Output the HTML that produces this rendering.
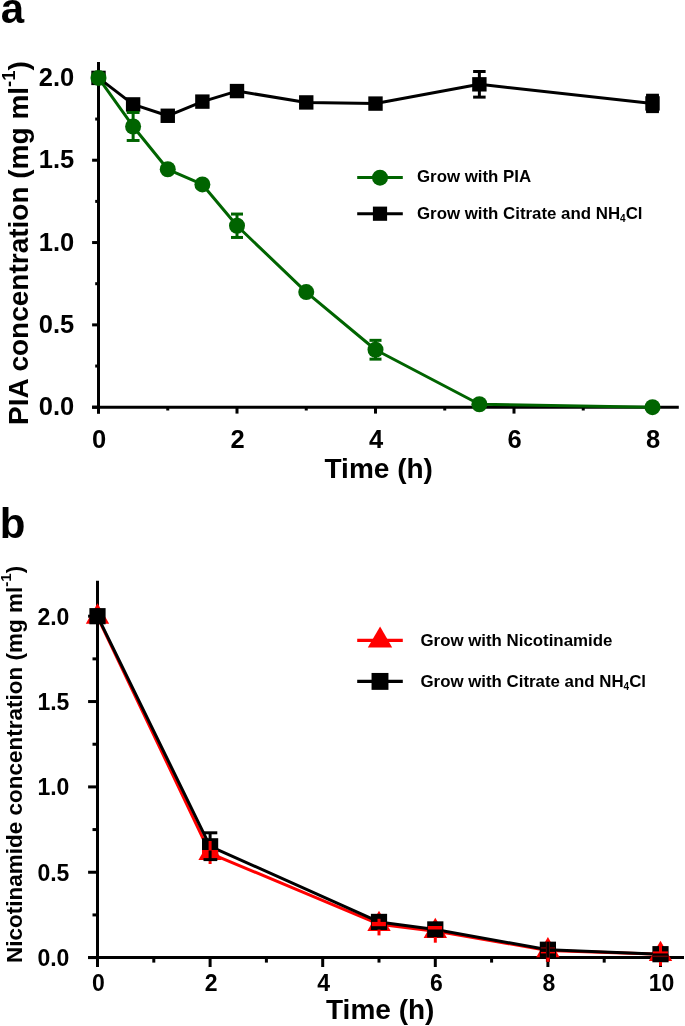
<!DOCTYPE html>
<html><head><meta charset="utf-8"><title>Figure</title>
<style>
html,body{margin:0;padding:0;background:#fff;}
body{width:685px;height:1026px;overflow:hidden;}
svg{display:block;}
text{font-family:"Liberation Sans",Arial,sans-serif;font-weight:bold;fill:#000;}
</style></head>
<body>
<svg width="685" height="1026" viewBox="0 0 685 1026">
<rect width="685" height="1026" fill="#fff"/>
<!-- panel a -->
<text x="0.7" y="22.8" font-size="42" text-anchor="start">a</text>
<line x1="98.5" y1="62" x2="98.5" y2="413.6" stroke="#000" stroke-width="3"/>
<line x1="92.1" y1="407.2" x2="678.8" y2="407.2" stroke="#000" stroke-width="3"/>
<line x1="98.5" y1="407.2" x2="98.5" y2="413.6" stroke="#000" stroke-width="3"/>
<line x1="237" y1="407.2" x2="237" y2="413.6" stroke="#000" stroke-width="3"/>
<line x1="375.5" y1="407.2" x2="375.5" y2="413.6" stroke="#000" stroke-width="3"/>
<line x1="514" y1="407.2" x2="514" y2="413.6" stroke="#000" stroke-width="3"/>
<line x1="652.5" y1="407.2" x2="652.5" y2="413.6" stroke="#000" stroke-width="3"/>
<line x1="167.75" y1="407.2" x2="167.75" y2="410.5" stroke="#000" stroke-width="3"/>
<line x1="306.25" y1="407.2" x2="306.25" y2="410.5" stroke="#000" stroke-width="3"/>
<line x1="444.75" y1="407.2" x2="444.75" y2="410.5" stroke="#000" stroke-width="3"/>
<line x1="583.25" y1="407.2" x2="583.25" y2="410.5" stroke="#000" stroke-width="3"/>
<line x1="92.1" y1="407.2" x2="98.5" y2="407.2" stroke="#000" stroke-width="3"/>
<line x1="92.1" y1="324.88" x2="98.5" y2="324.88" stroke="#000" stroke-width="3"/>
<line x1="92.1" y1="242.55" x2="98.5" y2="242.55" stroke="#000" stroke-width="3"/>
<line x1="92.1" y1="160.22" x2="98.5" y2="160.22" stroke="#000" stroke-width="3"/>
<line x1="92.1" y1="77.9" x2="98.5" y2="77.9" stroke="#000" stroke-width="3"/>
<line x1="95.2" y1="366.04" x2="98.5" y2="366.04" stroke="#000" stroke-width="3"/>
<line x1="95.2" y1="283.71" x2="98.5" y2="283.71" stroke="#000" stroke-width="3"/>
<line x1="95.2" y1="201.39" x2="98.5" y2="201.39" stroke="#000" stroke-width="3"/>
<line x1="95.2" y1="119.06" x2="98.5" y2="119.06" stroke="#000" stroke-width="3"/>
<text x="74.3" y="415.3" font-size="25.5" text-anchor="end">0.0</text>
<text x="74.3" y="332.98" font-size="25.5" text-anchor="end">0.5</text>
<text x="74.3" y="250.65" font-size="25.5" text-anchor="end">1.0</text>
<text x="74.3" y="168.32" font-size="25.5" text-anchor="end">1.5</text>
<text x="74.3" y="86" font-size="25.5" text-anchor="end">2.0</text>
<text x="99.1" y="448.3" font-size="25.5" text-anchor="middle">0</text>
<text x="237.6" y="448.3" font-size="25.5" text-anchor="middle">2</text>
<text x="376.1" y="448.3" font-size="25.5" text-anchor="middle">4</text>
<text x="514.6" y="448.3" font-size="25.5" text-anchor="middle">6</text>
<text x="653.1" y="448.3" font-size="25.5" text-anchor="middle">8</text>
<text x="378.7" y="478.2" font-size="28" text-anchor="middle">Time (h)</text>
<text transform="translate(28.0,243.1) rotate(-90)" font-size="28" text-anchor="middle">PIA concentration (mg ml<tspan font-size="18.5" dy="-13.4">-1</tspan><tspan dy="13.4">)</tspan></text>
<polyline points="98.5,77.9 133.12,104.41 167.75,115.77 202.38,101.61 237,91.07 306.25,102.43 375.5,103.59 479.38,84.32 652.5,103.42" fill="none" stroke="#000" stroke-width="3" stroke-linejoin="round"/>
<rect x="91.3" y="70.7" width="14.4" height="14.4" fill="#000"/>
<rect x="125.92" y="97.21" width="14.4" height="14.4" fill="#000"/>
<rect x="160.55" y="108.57" width="14.4" height="14.4" fill="#000"/>
<rect x="195.18" y="94.41" width="14.4" height="14.4" fill="#000"/>
<rect x="229.8" y="83.87" width="14.4" height="14.4" fill="#000"/>
<rect x="299.05" y="95.23" width="14.4" height="14.4" fill="#000"/>
<rect x="368.3" y="96.39" width="14.4" height="14.4" fill="#000"/>
<rect x="472.18" y="77.12" width="14.4" height="14.4" fill="#000"/>
<rect x="645.3" y="96.22" width="14.4" height="14.4" fill="#000"/>
<line x1="479.38" y1="71.52" x2="479.38" y2="97.12" stroke="#000" stroke-width="3"/>
<line x1="473.12" y1="71.52" x2="485.62" y2="71.52" stroke="#000" stroke-width="3"/>
<line x1="473.12" y1="97.12" x2="485.62" y2="97.12" stroke="#000" stroke-width="3"/>
<line x1="652.5" y1="95.22" x2="652.5" y2="111.62" stroke="#000" stroke-width="3"/>
<line x1="646.15" y1="95.22" x2="658.85" y2="95.22" stroke="#000" stroke-width="3"/>
<line x1="646.15" y1="111.62" x2="658.85" y2="111.62" stroke="#000" stroke-width="3"/>
<rect x="646.15" y="94.42" width="12.7" height="18" fill="#000"/>
<polyline points="98.5,77.9 133.12,126.47 167.75,169.28 202.38,184.43 237,225.76 306.25,292.11 375.5,349.74 479.38,404.24 652.5,407.2" fill="none" stroke="#006400" stroke-width="3" stroke-linejoin="round"/>
<circle cx="98.5" cy="77.9" r="8" fill="#006400"/>
<circle cx="133.12" cy="126.47" r="8" fill="#006400"/>
<circle cx="167.75" cy="169.28" r="8" fill="#006400"/>
<circle cx="202.38" cy="184.43" r="8" fill="#006400"/>
<circle cx="237" cy="225.76" r="8" fill="#006400"/>
<circle cx="306.25" cy="292.11" r="8" fill="#006400"/>
<circle cx="375.5" cy="349.74" r="8" fill="#006400"/>
<circle cx="479.38" cy="404.24" r="8" fill="#006400"/>
<circle cx="652.5" cy="407.2" r="8" fill="#006400"/>
<line x1="133.12" y1="112.47" x2="133.12" y2="140.47" stroke="#006400" stroke-width="3"/>
<line x1="126.72" y1="112.47" x2="139.53" y2="112.47" stroke="#006400" stroke-width="3"/>
<line x1="126.72" y1="140.47" x2="139.53" y2="140.47" stroke="#006400" stroke-width="3"/>
<line x1="237" y1="214.06" x2="237" y2="237.46" stroke="#006400" stroke-width="3"/>
<line x1="231" y1="214.06" x2="243" y2="214.06" stroke="#006400" stroke-width="3"/>
<line x1="231" y1="237.46" x2="243" y2="237.46" stroke="#006400" stroke-width="3"/>
<line x1="375.5" y1="340.34" x2="375.5" y2="359.14" stroke="#006400" stroke-width="3"/>
<line x1="369.5" y1="340.34" x2="381.5" y2="340.34" stroke="#006400" stroke-width="3"/>
<line x1="369.5" y1="359.14" x2="381.5" y2="359.14" stroke="#006400" stroke-width="3"/>
<line x1="357.2" y1="177.6" x2="402.8" y2="177.6" stroke="#006400" stroke-width="3"/>
<circle cx="380" cy="177.7" r="8" fill="#006400"/>
<line x1="357.2" y1="213.7" x2="402.8" y2="213.7" stroke="#000" stroke-width="3"/>
<rect x="372.9" y="206.6" width="14.2" height="14.2" fill="#000"/>
<text x="417" y="182.4" font-size="16.85" text-anchor="start">Grow with PIA</text>
<text x="417" y="218.6" font-size="16.85" text-anchor="start">Grow with Citrate and NH<tspan font-size="10" dy="3">4</tspan><tspan dy="-3">Cl</tspan></text>
<!-- panel b -->
<text x="-0.2" y="537.5" font-size="42" text-anchor="start">b</text>
<line x1="97.5" y1="580.8" x2="97.5" y2="967" stroke="#000" stroke-width="3"/>
<line x1="88.1" y1="957.6" x2="684" y2="957.6" stroke="#000" stroke-width="3"/>
<line x1="97.5" y1="957.6" x2="97.5" y2="967" stroke="#000" stroke-width="3"/>
<line x1="210.1" y1="957.6" x2="210.1" y2="967" stroke="#000" stroke-width="3"/>
<line x1="322.7" y1="957.6" x2="322.7" y2="967" stroke="#000" stroke-width="3"/>
<line x1="435.3" y1="957.6" x2="435.3" y2="967" stroke="#000" stroke-width="3"/>
<line x1="547.9" y1="957.6" x2="547.9" y2="967" stroke="#000" stroke-width="3"/>
<line x1="660.5" y1="957.6" x2="660.5" y2="967" stroke="#000" stroke-width="3"/>
<line x1="153.8" y1="957.6" x2="153.8" y2="962.6" stroke="#000" stroke-width="3"/>
<line x1="266.4" y1="957.6" x2="266.4" y2="962.6" stroke="#000" stroke-width="3"/>
<line x1="379" y1="957.6" x2="379" y2="962.6" stroke="#000" stroke-width="3"/>
<line x1="491.6" y1="957.6" x2="491.6" y2="962.6" stroke="#000" stroke-width="3"/>
<line x1="604.2" y1="957.6" x2="604.2" y2="962.6" stroke="#000" stroke-width="3"/>
<line x1="88.1" y1="957.6" x2="97.5" y2="957.6" stroke="#000" stroke-width="3"/>
<line x1="88.1" y1="872.25" x2="97.5" y2="872.25" stroke="#000" stroke-width="3"/>
<line x1="88.1" y1="786.9" x2="97.5" y2="786.9" stroke="#000" stroke-width="3"/>
<line x1="88.1" y1="701.55" x2="97.5" y2="701.55" stroke="#000" stroke-width="3"/>
<line x1="88.1" y1="616.2" x2="97.5" y2="616.2" stroke="#000" stroke-width="3"/>
<line x1="92.5" y1="914.93" x2="97.5" y2="914.93" stroke="#000" stroke-width="3"/>
<line x1="92.5" y1="829.58" x2="97.5" y2="829.58" stroke="#000" stroke-width="3"/>
<line x1="92.5" y1="744.23" x2="97.5" y2="744.23" stroke="#000" stroke-width="3"/>
<line x1="92.5" y1="658.88" x2="97.5" y2="658.88" stroke="#000" stroke-width="3"/>
<text x="69.4" y="966.1" font-size="23" text-anchor="end">0.0</text>
<text x="69.4" y="880.75" font-size="23" text-anchor="end">0.5</text>
<text x="69.4" y="795.4" font-size="23" text-anchor="end">1.0</text>
<text x="69.4" y="710.05" font-size="23" text-anchor="end">1.5</text>
<text x="69.4" y="624.7" font-size="23" text-anchor="end">2.0</text>
<text x="98.5" y="990.6" font-size="23" text-anchor="middle">0</text>
<text x="211.1" y="990.6" font-size="23" text-anchor="middle">2</text>
<text x="323.7" y="990.6" font-size="23" text-anchor="middle">4</text>
<text x="436.3" y="990.6" font-size="23" text-anchor="middle">6</text>
<text x="548.9" y="990.6" font-size="23" text-anchor="middle">8</text>
<text x="661.5" y="990.6" font-size="23" text-anchor="middle">10</text>
<text x="380.2" y="1019.3" font-size="28" text-anchor="middle">Time (h)</text>
<text transform="translate(21.7,764.4) rotate(-90)" font-size="22.5" text-anchor="middle">Nicotinamide concentration (mg ml<tspan font-size="15" dy="-10.7">-1</tspan><tspan dy="10.7">)</tspan></text>
<polyline points="97.5,616.88 210.1,853.3 379,924.14 435.3,931.14 547.9,950.43 660.5,954.19" fill="none" stroke="#ff0000" stroke-width="3" stroke-linejoin="round"/>
<polyline points="97.5,616.2 210.1,846.3 379,921.92 435.3,929.43 547.9,949.75 660.5,954.19" fill="none" stroke="#000" stroke-width="3" stroke-linejoin="round"/>
<polygon points="97.5,603.37 85.8,623.64 109.2,623.64" fill="#ff0000"/>
<polygon points="210.1,839.79 198.4,860.06 221.8,860.06" fill="#ff0000"/>
<polygon points="379,910.63 367.3,930.9 390.7,930.9" fill="#ff0000"/>
<polygon points="435.3,917.63 423.6,937.9 447,937.9" fill="#ff0000"/>
<polygon points="547.9,936.92 536.2,957.19 559.6,957.19" fill="#ff0000"/>
<polygon points="660.5,940.68 648.8,960.94 672.2,960.94" fill="#ff0000"/>
<rect x="89.4" y="608.1" width="16.2" height="16.2" fill="#000"/>
<rect x="202" y="838.2" width="16.2" height="16.2" fill="#000"/>
<rect x="370.9" y="913.82" width="16.2" height="16.2" fill="#000"/>
<rect x="427.2" y="921.33" width="16.2" height="16.2" fill="#000"/>
<rect x="539.8" y="941.65" width="16.2" height="16.2" fill="#000"/>
<rect x="652.4" y="946.09" width="16.2" height="16.2" fill="#000"/>
<line x1="210.1" y1="832.8" x2="210.1" y2="840" stroke="#000" stroke-width="3"/>
<line x1="203.5" y1="832.8" x2="217.3" y2="832.8" stroke="#000" stroke-width="3"/>
<rect x="202" y="850" width="16.1" height="5.8" fill="#ff0000"/>
<line x1="210.1" y1="841" x2="210.1" y2="864" stroke="#ff0000" stroke-width="3"/>
<line x1="210.1" y1="850.5" x2="210.1" y2="859.6" stroke="#000" stroke-width="3"/>
<line x1="203.5" y1="859.6" x2="217.3" y2="859.6" stroke="#000" stroke-width="3"/>
<rect x="371.7" y="921.9" width="14.2" height="4.3" fill="#ff0000"/>
<line x1="379" y1="918.8" x2="379" y2="923" stroke="#ff0000" stroke-width="3"/>
<line x1="379" y1="929.5" x2="379" y2="935.4" stroke="#ff0000" stroke-width="3"/>
<rect x="427.9" y="926" width="14.2" height="3.5" fill="#ff0000"/>
<line x1="435.3" y1="937" x2="435.3" y2="942.7" stroke="#ff0000" stroke-width="3"/>
<rect x="540.8" y="947.1" width="14.2" height="1.6" fill="#6a0000"/>
<rect x="540.8" y="951.9" width="14.2" height="1.5" fill="#ff0000"/>
<line x1="547.9" y1="942" x2="547.9" y2="961.8" stroke="#6a0000" stroke-width="4"/>
<line x1="547.9" y1="942" x2="547.9" y2="961.8" stroke="#000" stroke-width="2.6"/>
<line x1="547.9" y1="957.6" x2="547.9" y2="961.8" stroke="#ff0000" stroke-width="3"/>
<rect x="653" y="955.6" width="14.8" height="1.5" fill="#6a0000"/>
<rect x="652.8" y="951.4" width="15.1" height="2" fill="#ff0000"/>
<line x1="660.5" y1="946" x2="660.5" y2="953" stroke="#ff0000" stroke-width="3"/>
<line x1="660.5" y1="962" x2="660.5" y2="965.8" stroke="#ff0000" stroke-width="3"/>
<line x1="357.2" y1="640.4" x2="402.8" y2="640.4" stroke="#ff0000" stroke-width="3.2"/>
<polygon points="380.1,626.4 367.8,647.4 392.2,647.4" fill="#ff0000"/>
<line x1="357.2" y1="681.3" x2="402.8" y2="681.3" stroke="#000" stroke-width="3.2"/>
<rect x="371.55" y="672.95" width="16.9" height="16.9" fill="#000"/>
<text x="420.5" y="646.3" font-size="16.85" text-anchor="start">Grow with Nicotinamide</text>
<text x="420.5" y="686.8" font-size="16.85" text-anchor="start">Grow with Citrate and NH<tspan font-size="10" dy="3">4</tspan><tspan dy="-3">Cl</tspan></text>
</svg>
</body></html>
